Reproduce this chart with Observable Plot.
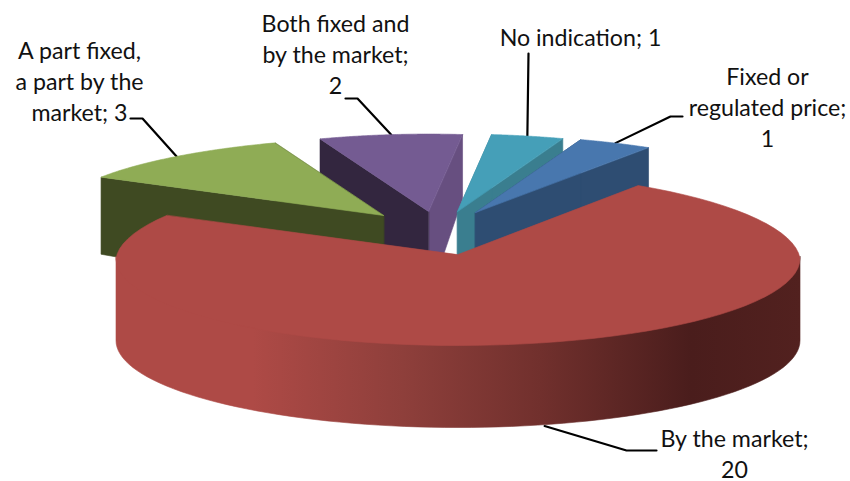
<!DOCTYPE html>
<html>
<head>
<meta charset="utf-8">
<script src="https://cdn.jsdelivr.net/npm/d3@7"></script>
<script src="https://cdn.jsdelivr.net/npm/@observablehq/plot@0.6"></script>
<style>
  html, body { margin: 0; padding: 0; background: #fff; }
  svg { display: block; }
</style>
</head>
<body>
<div id="chart"></div>
<script>
// Pricing categories, clockwise from the first slice
const categories = ["Fixed or regulated price", "By the market", "A part fixed, a part by the market", "Both fixed and by the market", "No indication"];
const counts = [1, 20, 3, 2, 1];
const labels = ["Fixed or\nregulated price;\n1", "By the market;\n20", "A part fixed,\na part by the\nmarket; 3", "Both fixed and\nby the market;\n2", "No indication; 1"];

// Face colours per slice: top, front wall, side wall
const topColors = ["#4877ae", "#ae4a46", "#8fac55", "#745b92", "#459fb8"];
const wallColors = ["#2e4d72", "#4a1d1c", "#3f4a22", "#33263f", "#3a7e8f"];
const sideColors = ["#2e4d72", "#4a1d1c", "#3f4a22", "#674f80", "#3a7e8f"];

// Where each slice's point sits once pulled out of the pie, and its foreshortened size
const apexX = [475, 457.5, 383, 428, 457];
const apexY = [212, 254, 215, 211, 211];
const shrink = [0.89, 1, 0.89, 0.89, 0.89];

// Label placement and the elbow of each leader line
const labelX = [767, 734, 79, 335, 580];
const labelY = [73, 435, 47, 20, 34];
const elbowX = [[682, 670], [656, 626], [130, 142], [345, 357], [528, 528]];
const elbowY = [[116, 116], [450, 450], [118, 118], [98, 98], [53, 53]];

// Oblique view of the pie
const cx = 457.5, cy = 258, rx = 342, ry = 87, firstAngle = 19.7;
const total = d3.sum(counts);
const rad = Math.PI / 180;

let running = firstAngle;
const slices = counts.map((value, i) => {
  const start = running;
  running += (value / total) * 360;
  return {i, value, start, end: running, name: categories[i]};
});

const rimPoint = (s, angle) => {
  const sin = Math.sin(angle * rad), cos = Math.cos(angle * rad);
  if (s.i === 1) {
    // The far half of the large slice narrows with distance
    const kx = cos > 0 ? 1 - 0.04 * cos : 1;
    return {x: cx + rx * kx * sin, y: cy - ry * cos};
  }
  const k = shrink[s.i];
  const kx = k + 0.07 * Math.abs(sin);
  return {x: apexX[s.i] + rx * kx * sin, y: apexY[s.i] - ry * k * cos};
};
const arc = (s, from, to) => d3.range(0, 81).map((t) => rimPoint(s, from + ((to - from) * t) / 80));
// Walls further back look shorter
const drop = (p) => ({x: p.x, y: p.y + 64 + (p.y - 133) * 0.3});
const apexOf = (s) => ({x: apexX[s.i], y: apexY[s.i]});

const poly = (points, fill) =>
  Plot.line(points, {x: "x", y: "y", fill, stroke: fill, strokeWidth: 0.6, curve: "linear-closed"});

const sliceMarks = (s) => {
  const a = apexOf(s);
  const rimA = rimPoint(s, s.start);
  const rimB = rimPoint(s, s.end);
  const walls = [
    poly([a, rimB, drop(rimB), drop(a)], sideColors[s.i]),
    poly([a, rimA, drop(rimA), drop(a)], wallColors[s.i])
  ];
  return [...walls, poly([a, ...arc(s, s.start, s.end)], topColors[s.i])];
};

const [blue, red, green, purple, teal] = slices;

// Front wall of the large slice, lit from the left; its top edge tucks under the face
const redWall = [
  ...arc(red, 90, 270).map((p) => ({x: p.x, y: p.y - 2})),
  ...arc(red, 270, 90).map((p) => ({x: p.x, y: p.y + 82}))
];
const wallShade = () => {
  const defs = d3.create("svg:defs");
  const grad = defs.append("linearGradient")
    .attr("id", "red-wall").attr("gradientUnits", "userSpaceOnUse")
    .attr("x1", 115).attr("x2", 800).attr("y1", 0).attr("y2", 0);
  [[0, "#ae4a46"], [0.2, "#ae4a46"], [0.42, "#8e3f3b"], [0.62, "#71302d"], [0.84, "#4a1d1c"], [1, "#52211f"]]
    .forEach(([o, c]) => grad.append("stop").attr("offset", o).attr("stop-color", c));
  return defs.node();
};

// Leader lines run from the label elbow to the middle of the slice's rim
const leaders = slices.flatMap((s) => {
  const mid = (s.start + s.end) / 2;
  let rim = rimPoint(s, mid);
  if (s.i === 1) rim = {x: rim.x + 6, y: rim.y + 83};
  return [
    {id: s.i, x: elbowX[s.i][0], y: elbowY[s.i][0]},
    {id: s.i, x: elbowX[s.i][1], y: elbowY[s.i][1]},
    {id: s.i, x: rim.x, y: rim.y}
  ];
});

const labelRows = slices.map((s) => ({x: labelX[s.i], y: labelY[s.i], text: labels[s.i]}));

const chart = Plot.plot({
  width: 850,
  height: 481,
  margin: 0,
  style: {background: "#fff", overflow: "hidden"},
  x: {domain: [0, 850], range: [0, 850], axis: null},
  y: {domain: [0, 481], range: [0, 481], axis: null},
  marks: [
    wallShade,
    Plot.line(leaders, {x: "x", y: "y", z: "id", stroke: "#000", strokeWidth: 2.2, curve: "linear"}),
    ...sliceMarks(purple),
    ...sliceMarks(teal),
    ...sliceMarks(blue),
    ...sliceMarks(green),
    Plot.line(redWall, {x: "x", y: "y", fill: "url(#red-wall)", stroke: "url(#red-wall)", strokeWidth: 0.6, curve: "linear-closed"}),
    poly([{x: apexX[1], y: apexY[1]}, ...arc(red, red.start, red.end)], topColors[1]),
    Plot.text(labelRows, {
      x: "x", y: "y", text: "text", textAnchor: "middle", lineAnchor: "top", lineHeight: 1.34,
      dy: -11, fontSize: 23.2, fontFamily: "Lato, 'Open Sans', sans-serif", fill: "#111"
    })
  ]
});
document.getElementById("chart").appendChild(chart);
</script>
</body>
</html>
